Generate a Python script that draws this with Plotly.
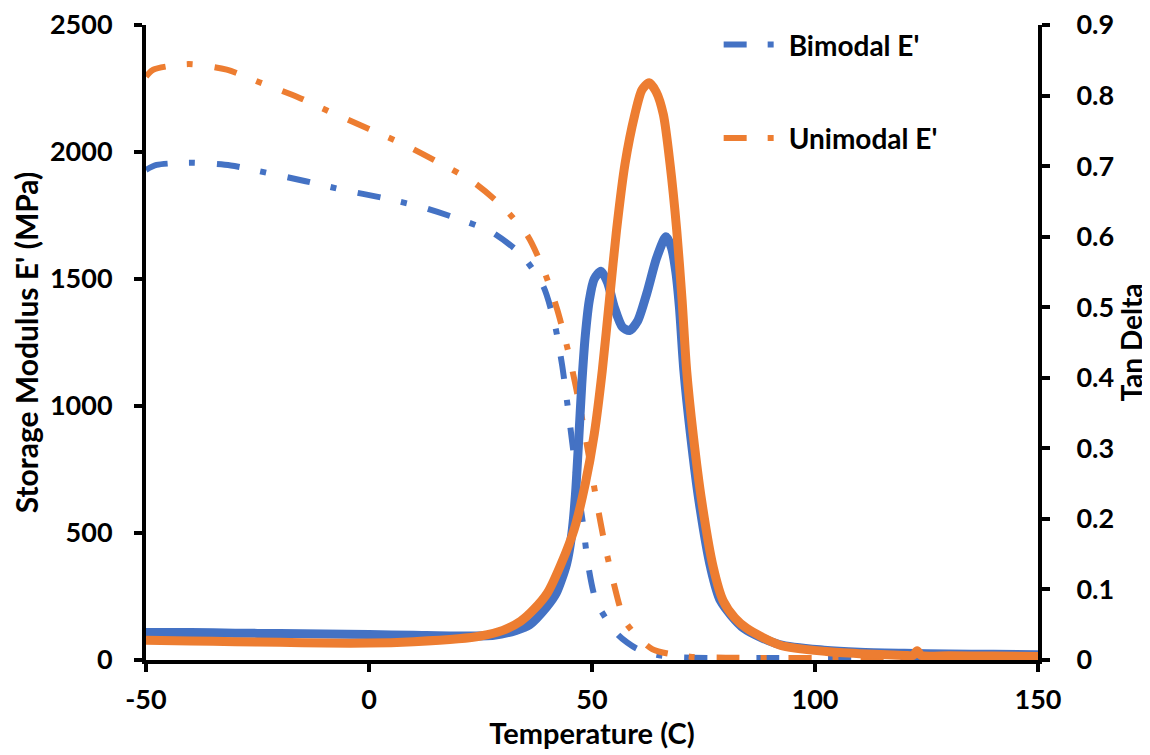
import plotly.graph_objects as go

# ---- Axis ticks ----
x_tickvals = [-50, 0, 50, 100, 150]
x_ticktext = ["-50", "0", "50", "100", "150"]

# ---- Storage modulus E' (MPa) ----
bi_E_T = [-50, -47.6, -39.9, -31.0, -22.6, -14.2, -5.6, 2.9, 11.2, 19.3, 27.4, 34.2, 39.1,
          41.7, 43.3, 44.5, 45.6, 46.7, 48.0, 49.1, 51.0, 55.9, 60.0, 64.5, 70, 80, 90, 100, 120, 150]
bi_E = [1930, 1949, 1958, 1947, 1917, 1885, 1850, 1820, 1786, 1741, 1686, 1595, 1471,
        1318, 1161, 1005, 852, 693, 534, 378, 228, 98, 45, 20, 10, 8, 8, 8, 8, 8]

uni_E_T = [-50, -48.4, -40.5, -31.9, -23.9, -15.8, -8.1, 0.0, 7.8, 15.7, 23.2, 29.9, 35.6,
           39.3, 42.2, 44.5, 46.4, 48.2, 49.7, 51.2, 52.9, 54.9, 57.5, 63.5, 72, 80, 90, 100, 120, 150]
uni_E = [2297, 2324, 2346, 2324, 2270, 2215, 2153, 2091, 2030, 1958, 1884, 1786, 1669,
         1530, 1380, 1227, 1074, 911, 762, 609, 453, 300, 150, 43, 13, 9, 8, 8, 8, 8]

# ---- Tan delta ----
bi_tan_T = [-50, -40, -30, -20, -10, 0, 10, 20, 28, 33, 36, 39.8, 42, 44.3, 45.5, 46.3, 47.0,
            47.7, 48.5, 49.4, 50.5, 52.0, 53.5, 55.0, 56.8, 58.4, 60.2, 62.3, 64.5, 66.6, 67.8,
            68.8, 69.6, 70.6, 72.1, 74.0, 76.6, 78.8, 84, 92, 102, 110, 120, 130, 140, 150]
bi_tan = [0.039, 0.039, 0.038, 0.0375, 0.037, 0.036, 0.035, 0.034, 0.035, 0.042, 0.050, 0.075,
          0.095, 0.136, 0.18, 0.235, 0.31, 0.39, 0.46, 0.51, 0.54, 0.551, 0.535, 0.50, 0.472,
          0.467, 0.48, 0.52, 0.57, 0.600, 0.585, 0.55, 0.50, 0.41, 0.319, 0.225, 0.131, 0.084,
          0.045, 0.022, 0.014, 0.011, 0.0095, 0.0085, 0.008, 0.0075]

uni_tan_T = [-50, -40, -30, -20, -10, 0, 10, 20, 25, 30, 34, 37, 40, 43, 46, 48.5, 50.5, 52.3,
             54.0, 55.5, 57.4, 59.6, 61.2, 62.8, 64.4, 66.0, 67.5, 69.0, 70.2, 71.2, 72.7, 74.6,
             77.2, 79.4, 82, 84.7, 92.2, 102.6, 110, 120, 122, 122.9, 123.8, 130, 140, 150]
uni_tan = [0.028, 0.027, 0.026, 0.025, 0.024, 0.024, 0.026, 0.030, 0.034, 0.042, 0.055, 0.072,
           0.095, 0.135, 0.185, 0.25, 0.32, 0.41, 0.516, 0.609, 0.703, 0.773, 0.808, 0.818,
           0.805, 0.773, 0.703, 0.609, 0.51, 0.412, 0.319, 0.225, 0.131, 0.084, 0.060, 0.045,
           0.021, 0.012, 0.009, 0.0065, 0.0065, 0.013, 0.0065, 0.006, 0.0055, 0.005]

BLUE = "#4472C4"
ORANGE = "#ED7D31"
FONT = "Lato, 'Open Sans', sans-serif"
DASH = "23px,21px,6px,22px"

fig = go.Figure()
fig.add_trace(go.Scatter(x=bi_E_T, y=bi_E, mode="lines", name="Bimodal E'",
                         line=dict(color=BLUE, width=6, dash=DASH, shape="spline", smoothing=0.7),
                         legendgroup="a", yaxis="y"))
fig.add_trace(go.Scatter(x=uni_E_T, y=uni_E, mode="lines", name="Unimodal E'",
                         line=dict(color=ORANGE, width=6, dash=DASH, shape="spline", smoothing=0.7),
                         legendgroup="b", yaxis="y"))
fig.add_trace(go.Scatter(x=bi_tan_T, y=bi_tan, mode="lines", name="Bimodal Tan Delta",
                         line=dict(color=BLUE, width=9, shape="spline", smoothing=0.7),
                         showlegend=False, yaxis="y2"))
fig.add_trace(go.Scatter(x=uni_tan_T, y=uni_tan, mode="lines", name="Unimodal Tan Delta",
                         line=dict(color=ORANGE, width=9, shape="spline", smoothing=0.7),
                         showlegend=False, yaxis="y2"))

axis_common = dict(showline=True, linewidth=4, linecolor="black", ticks="outside",
                   ticklen=8, tickwidth=4, tickcolor="black", showgrid=False, zeroline=False,
                   automargin=False, ticklabeloverflow="allow",
                   tickfont=dict(family=FONT, size=27, color="black", weight="bold"))

fig.update_layout(
    width=1142, height=747,
    margin=dict(l=138, r=112, t=12, b=95),
    paper_bgcolor="white", plot_bgcolor="white",
    showlegend=True,
    legend=dict(x=0.642, y=1.008, xanchor="left", yanchor="top", bgcolor="rgba(0,0,0,0)",
                font=dict(family=FONT, size=28, color="black", weight="bold"),
                tracegroupgap=54, itemwidth=60),
    xaxis=dict(range=[-50, 150], tickmode="array", tickvals=x_tickvals, ticktext=x_ticktext,
               ticklabelstandoff=5,
               title=dict(text="Temperature (C)", standoff=10,
                          font=dict(family=FONT, size=29, color="black", weight="bold")),
               **axis_common),
    yaxis=dict(range=[0, 2500], dtick=500, ticklabelstandoff=16,
               title=dict(text="Storage Modulus E' (MPa)", standoff=4,
                          font=dict(family=FONT, size=30, color="black", weight="bold")),
               **axis_common),
    yaxis2=dict(range=[0, 0.9], dtick=0.1, overlaying="y", side="right", ticklabelstandoff=21,
                title=dict(text="Tan Delta", standoff=0,
                           font=dict(family=FONT, size=28, color="black", weight="bold")),
                **axis_common),
)

fig.write_html("out.html")
